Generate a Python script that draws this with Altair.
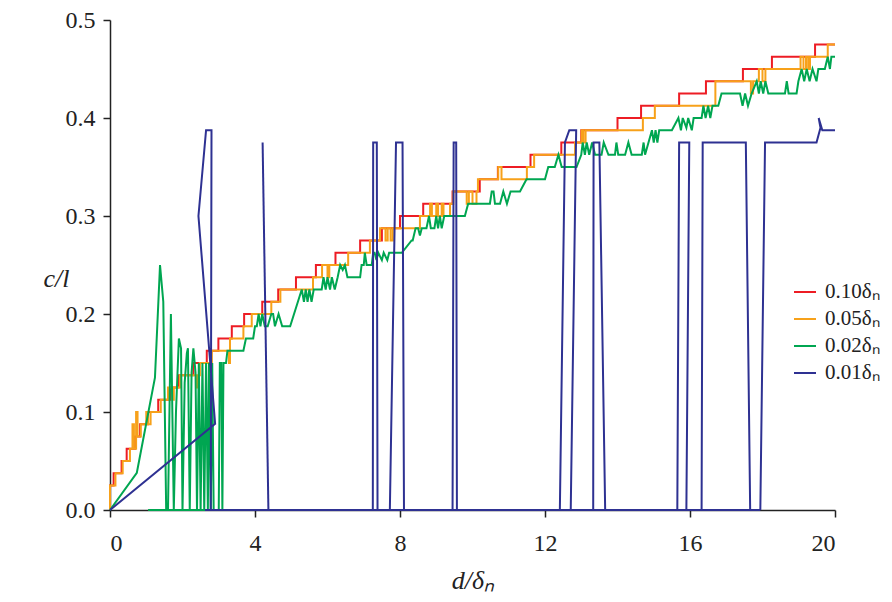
import altair as alt
import pandas as pd

# ---- series labels and colours ----
labels = ["0.10δₙ", "0.05δₙ", "0.02δₙ", "0.01δₙ"]
colors = ["#ED1C24", "#F7A11A", "#00A651", "#2E3192"]

# ---- 0.10δn : staircase (value holds until next x) ----
red_x = [0, 0, 0.1, 0.32, 0.46, 0.69, 0.83, 1.05, 1.33, 1.66, 1.89, 2.3, 2.67, 2.99, 3.36,
         3.7, 4.2, 4.64, 5.13, 5.68, 6.22, 6.9, 7.5, 8.0, 8.64, 9.45, 10.2, 10.7, 11.6,
         12.45, 13.0, 14.0, 14.65, 15.7, 16.44, 17.46, 18.26, 19.45, 20]
red_y = [0, 0.025, 0.0375, 0.05, 0.0625, 0.075, 0.0875, 0.1, 0.1125, 0.125, 0.1375, 0.15,
         0.1625, 0.175, 0.1875, 0.2, 0.2125, 0.225, 0.2375, 0.25, 0.2625, 0.275, 0.2875,
         0.3, 0.3125, 0.325, 0.3375, 0.35, 0.3625, 0.375, 0.3875, 0.4, 0.4125, 0.425,
         0.4375, 0.45, 0.4625, 0.475, 0.475]

# ---- 0.05δn : staircase with short dips ----
orange_x = [0, 0, 0.15, 0.35, 0.55, 0.62, 0.66, 0.72, 0.76, 0.85, 1.0, 1.05, 1.12, 1.4, 1.6,
            1.72, 1.76, 1.93, 2.39, 2.43, 2.48, 2.81, 3.28, 3.31, 3.68, 3.91, 4.45, 4.7,
            5.6, 5.85, 6.0, 6.05, 6.57, 7.17, 7.45, 7.6, 7.66, 7.74, 7.8, 8.55, 8.83,
            8.88, 9.0, 9.05, 9.15, 9.2, 9.38, 9.47, 9.84, 9.9, 10.0, 10.11, 10.15, 10.71,
            10.8, 11.5, 11.7, 12.83, 13.01, 13.06, 13.12, 13.2, 14.7, 15.03, 16.7, 17.68,
            17.74, 17.9, 18.0, 18.08, 19.05, 19.13, 19.2, 19.26, 19.31, 19.8, 20]
orange_y = [0, 0.025, 0.0375, 0.05, 0.0625, 0.0875, 0.0625, 0.1, 0.075, 0.0875, 0.1, 0.0875,
            0.1, 0.1125, 0.125, 0.1125, 0.125, 0.1375, 0.125, 0.1375, 0.15, 0.1625, 0.15,
            0.175, 0.1875, 0.2, 0.2125, 0.225, 0.2375, 0.25, 0.2375, 0.25, 0.2625, 0.275,
            0.2875, 0.275, 0.2875, 0.275, 0.2875, 0.3, 0.3125, 0.3, 0.3125, 0.3, 0.3125,
            0.3, 0.3125, 0.325, 0.3125, 0.325, 0.3125, 0.325, 0.3375, 0.35, 0.3375, 0.35,
            0.3625, 0.375, 0.3875, 0.375, 0.3875, 0.3875, 0.4, 0.4125, 0.4375, 0.425,
            0.4375, 0.45, 0.4375, 0.45, 0.4625, 0.45, 0.4625, 0.45, 0.4625, 0.475, 0.475]

# ---- 0.02δn : jagged path (segment 0) + flat run on the axis (segment 1) ----
green_x = [0, 0.74, 1.24, 1.38, 1.47, 1.55, 1.6, 1.68, 1.76, 1.82, 1.9, 1.96, 2.0, 2.06,
           2.12, 2.15, 2.2, 2.25, 2.3, 2.36, 2.4, 2.45, 2.5, 2.55, 2.6, 2.65, 2.7, 2.73,
           2.78, 2.82, 2.86, 3.0, 3.03, 3.07, 3.1, 3.13, 3.2, 3.24, 3.68, 3.75, 3.95, 4.0,
           4.05, 4.1, 4.15, 4.2, 4.27, 4.35, 4.45, 4.5, 4.55, 4.65, 4.75, 4.97, 5.29, 5.35,
           5.4, 5.45, 5.5, 5.56, 5.62, 5.84, 5.89, 5.95, 6.0, 6.07, 6.12, 6.2, 6.28, 6.35,
           6.42, 6.48, 6.55, 6.9, 6.94, 7.0, 7.03, 7.08, 7.22, 7.26, 7.3, 7.35, 7.4, 7.5,
           7.55, 7.65, 7.7, 8.05, 8.32, 8.35, 8.43, 8.5, 8.55, 8.6, 8.73, 8.8, 8.85, 8.95,
           9.0, 9.05, 9.1, 9.15, 9.22, 9.79, 9.88, 10.48, 10.53, 10.58, 10.62, 10.76,
           10.85, 10.95, 11.05, 11.13, 11.31, 11.49, 11.6, 12.0, 12.09, 12.27, 12.37,
           12.46, 12.87, 13.0, 13.04, 13.1, 13.15, 13.22, 13.3, 13.38, 13.56, 13.62,
           13.75, 13.93, 13.97, 14.02, 14.21, 14.3, 14.39, 14.67, 14.72, 14.76, 14.95,
           15.0, 15.05, 15.1, 15.15, 15.5, 15.68, 15.75, 15.8, 15.9, 15.95, 16.05, 16.1,
           16.14, 16.32, 16.37, 16.43, 16.5, 16.56, 16.62, 16.69, 16.78, 16.87, 17.38,
           17.45, 17.52, 17.6, 17.7, 17.84, 17.9, 17.95, 18.02, 18.08, 18.16, 18.62,
           18.67, 18.72, 18.76, 18.94, 18.99, 19.08, 19.15, 19.22, 19.3, 19.38, 19.49,
           19.54, 19.72, 19.8, 19.86, 19.9, 19.95, 20,
           1.05, 3.1]
green_y = [0, 0.038, 0.135, 0.25, 0.2125, 0, 0, 0.2, 0, 0.1, 0.175, 0.165, 0, 0.13, 0.16,
           0.165, 0, 0.14, 0.165, 0.14, 0, 0.15, 0, 0.15, 0, 0.15, 0, 0.15, 0, 0.15, 0, 0,
           0.15, 0.15, 0, 0.15, 0.15, 0.1625, 0.1625, 0.175, 0.175, 0.1875, 0.1875, 0.2,
           0.1875, 0.2, 0.1875, 0.1875, 0.2, 0.2, 0.1875, 0.2, 0.1875, 0.1875, 0.225,
           0.2125, 0.225, 0.2125, 0.225, 0.2125, 0.225, 0.225, 0.2375, 0.225, 0.2375,
           0.225, 0.2375, 0.225, 0.2375, 0.25, 0.245, 0.25, 0.2375, 0.2375, 0.25, 0.25,
           0.2625, 0.25, 0.25, 0.2625, 0.2625, 0.255, 0.2625, 0.255, 0.2625, 0.255, 0.2625,
           0.2625, 0.275, 0.275, 0.2875, 0.2875, 0.28, 0.2875, 0.2875, 0.3, 0.2875, 0.2875,
           0.3, 0.2875, 0.3, 0.2875, 0.3, 0.3, 0.3125, 0.3125, 0.325, 0.325, 0.3125,
           0.3125, 0.325, 0.3125, 0.325, 0.325, 0.325, 0.3375, 0.3375, 0.3375, 0.35, 0.35,
           0.3625, 0.35, 0.35, 0.3625, 0.375, 0.3625, 0.375, 0.3625, 0.375, 0.3625, 0.3625,
           0.375, 0.3625, 0.3625, 0.375, 0.3625, 0.3625, 0.375, 0.3625, 0.3625, 0.375,
           0.3625, 0.3875, 0.375, 0.3875, 0.375, 0.3875, 0.3875, 0.4, 0.3875, 0.4, 0.39,
           0.4, 0.3875, 0.4, 0.4, 0.4, 0.4125, 0.4, 0.4125, 0.4, 0.4125, 0.4125, 0.4125,
           0.425, 0.425, 0.4125, 0.425, 0.4125, 0.425, 0.4375, 0.425, 0.4375, 0.425,
           0.4375, 0.425, 0.425, 0.4375, 0.425, 0.425, 0.425, 0.4375, 0.45, 0.4375, 0.45,
           0.4375, 0.45, 0.4375, 0.45, 0.45, 0.4625, 0.45, 0.4625, 0.4625, 0.4625,
           0, 0]
green_seg = [0] * (len(green_x) - 2) + [1, 1]

# ---- 0.01δn : separate polylines ----
blue_x = [0, 2.9, 2.44, 2.65, 2.8, 2.78,
          2.62, 17.94,
          4.21, 4.37,
          7.25, 7.26, 7.36, 7.38,
          7.72, 7.89, 8.07, 8.11,
          9.45, 9.48, 9.55, 9.57,
          12.41, 12.55, 12.67, 12.86, 12.71,
          13.33, 13.34, 13.5, 13.66,
          15.65, 15.7, 15.98, 15.9,
          16.32, 16.35, 17.54, 17.66,
          17.94, 18.07, 19.49, 19.6, 19.55, 19.65, 20]
blue_y = [0, 0.088, 0.3, 0.3875, 0.3875, 0,
          0, 0,
          0.375, 0,
          0, 0.375, 0.375, 0,
          0, 0.375, 0.375, 0,
          0, 0.375, 0.375, 0,
          0, 0.375, 0.3875, 0.3875, 0,
          0, 0.375, 0.375, 0,
          0, 0.375, 0.375, 0,
          0, 0.375, 0.375, 0,
          0, 0.375, 0.375, 0.39, 0.4, 0.3875, 0.3875]
blue_seg = [0] * 6 + [1] * 2 + [2] * 2 + [3] * 4 + [4] * 4 + [5] * 4 + [6] * 5 + \
           [7] * 4 + [8] * 4 + [9] * 4 + [10] * 7


def table(xs, ys, label, segs=None):
    segs = segs if segs is not None else [0] * len(xs)
    return pd.DataFrame({"d": xs, "c": ys, "series": label,
                         "seg": [f"{label}-{s}" for s in segs],
                         "idx": list(range(len(xs)))})


step_df = pd.concat([table(red_x, red_y, labels[0]),
                     table(orange_x, orange_y, labels[1])], ignore_index=True)
lin_df = pd.concat([table(green_x, green_y, labels[2], green_seg),
                    table(blue_x, blue_y, labels[3], blue_seg)], ignore_index=True)

FONT = "Liberation Serif"

x_enc = alt.X("d:Q",
              scale=alt.Scale(domain=[0, 20], nice=False),
              axis=alt.Axis(values=[0, 4, 8, 12, 16, 20], title="d/δₙ",
                            titleFontStyle="italic", titleFontWeight="normal",
                            titleFontSize=26, titleFont=FONT, titleColor="#222",
                            titleY=70, titleBaseline="middle",
                            labelFont=FONT, labelFontSize=24, labelColor="#222",
                            labelPadding=14, tickSize=7, tickColor="#222",
                            domainColor="#222", grid=False))
y_enc = alt.Y("c:Q",
              scale=alt.Scale(domain=[0, 0.5], nice=False),
              axis=alt.Axis(values=[0, 0.1, 0.2, 0.3, 0.4, 0.5], format=".1f",
                            title="c/l", titleAngle=0, titleFontStyle="italic",
                            titleFontWeight="normal", titleFontSize=26, titleFont=FONT,
                            titleColor="#222", titleX=-54, titleY=258,
                            titleAlign="center", titleBaseline="middle",
                            labelFont=FONT, labelFontSize=24, labelColor="#222",
                            labelPadding=8, tickSize=7, tickColor="#222",
                            domainColor="#222", grid=False))
color_enc = alt.Color("series:N",
                      scale=alt.Scale(domain=labels, range=colors),
                      legend=alt.Legend(title=None, orient="none", legendX=683,
                                        legendY=260, symbolType="stroke",
                                        symbolSize=484, symbolStrokeWidth=2,
                                        labelFont=FONT, labelFontSize=21,
                                        labelColor="#222", rowPadding=5,
                                        labelOffset=8))

steps = alt.Chart(step_df).mark_line(interpolate="step-after", strokeWidth=2).encode(
    x=x_enc, y=y_enc, color=color_enc, detail="seg:N", order="idx:Q")
lines = alt.Chart(lin_df).mark_line(strokeWidth=2).encode(
    x=x_enc, y=y_enc, color=color_enc, detail="seg:N", order="idx:Q")

chart = alt.layer(steps, lines).properties(
    width=725, height=490,
    autosize=alt.AutoSizeParams(type="none"),
    padding={"left": 102, "top": 12, "right": 48, "bottom": 92},
).configure_view(stroke=None).configure_axis(domainWidth=1.5, tickWidth=1.5)

chart.save("out.html", embed_options={"renderer": "svg", "actions": False})
